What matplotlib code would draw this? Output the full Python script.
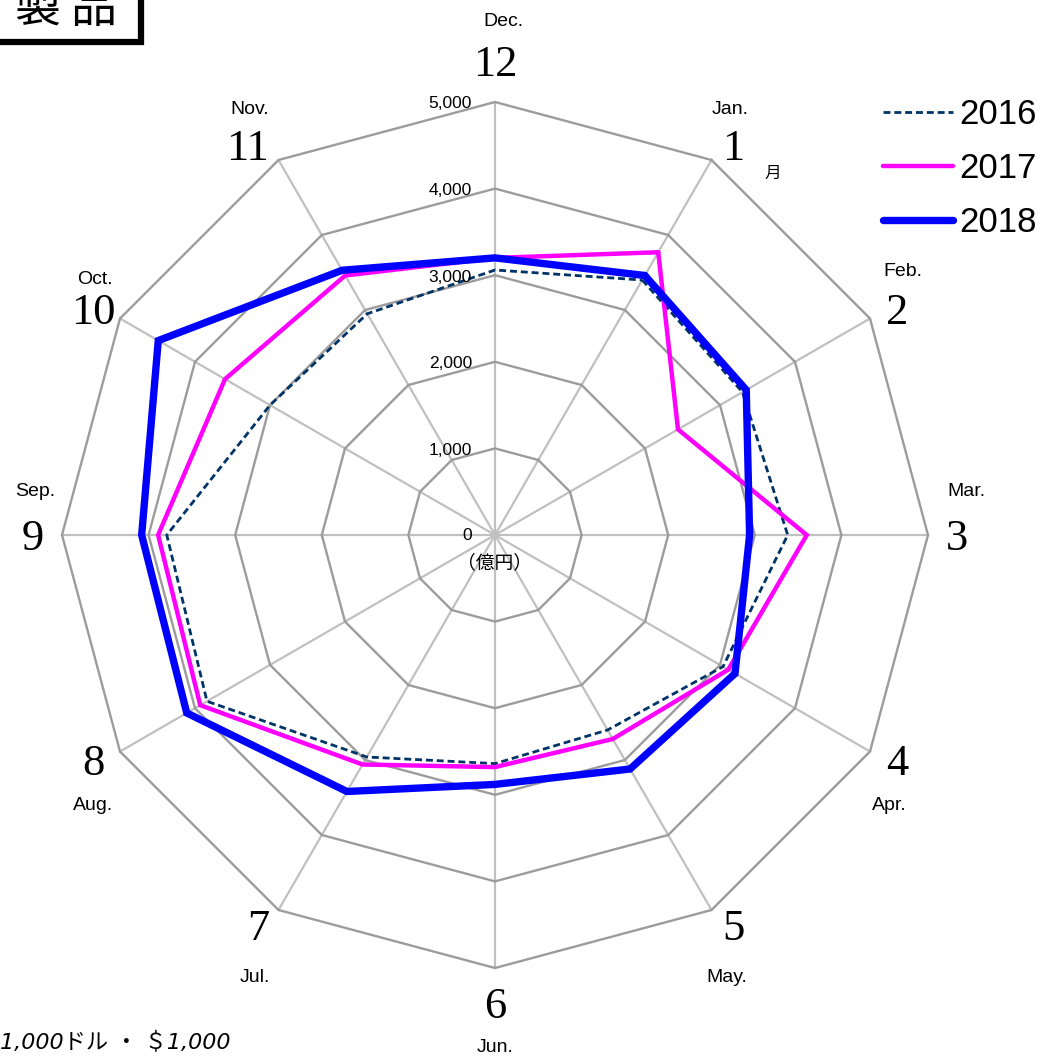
import numpy as np
import matplotlib
matplotlib.use("Agg")
import matplotlib.pyplot as plt
from matplotlib.patches import Rectangle

plt.rcParams["font.family"] = ["Liberation Sans", "Noto Sans CJK JP"]

# --- data (億円) -----------------------------------------------------------
month_nums = ["1", "2", "3", "4", "5", "6", "7", "8", "9", "10", "11", "12"]
month_abbr = ["Jan.", "Feb.", "Mar.", "Apr.", "May.", "Jun.",
              "Jul.", "Aug.", "Sep.", "Oct.", "Nov.", "Dec."]
years = ["2016", "2017", "2018"]
sales_2016 = [3400, 3300, 3380, 3040, 2600, 2640, 2960, 3840, 3790, 3000, 2950, 3060]
sales_2017 = [3770, 2440, 3600, 3110, 2720, 2680, 3060, 3930, 3890, 3600, 3460, 3200]
sales_2018 = [3460, 3350, 2940, 3200, 3120, 2880, 3420, 4110, 4080, 4490, 3530, 3200]
ring_values = [1000, 2000, 3000, 4000, 5000]
ring_labels = ["1,000", "2,000", "3,000", "4,000", "5,000"]

# --- layout -----------------------------------------------------------------
W, H = 1041, 1057
cx, cy = 495, 535            # chart centre in pixels
u = 5000 / 433.0             # value units per pixel

# month-number label centres, pixels relative to the chart centre (y up)
num_pos = [(238, 386), (402, 222), (462, -4), (402, -229), (238, -394),
           (0, -472), (-237, -394), (-402, -229), (-462, -4), (-402, 222),
           (-248, 386), (0, 470)]
# abbreviation offset from the number, pixels (y up)
abbr_off = [(-3, 39), (6, 41), (9, 47), (-8, -41), (-6, -48), (0, -40),
            (-3, -48), (0, -41), (2, 47), (2, 34), (3, 39), (8, 43)]

# Jan at 60 deg, going clockwise, Dec at the top
angles = np.deg2rad(60 - 30 * np.arange(12))


def to_xy(vals):
    vals = np.asarray(vals, dtype=float)
    x = np.append(vals * np.cos(angles), vals[0] * np.cos(angles[0]))
    y = np.append(vals * np.sin(angles), vals[0] * np.sin(angles[0]))
    return x, y


fig = plt.figure(figsize=(W / 100, H / 100), dpi=100)
ax = fig.add_axes([0, 0, 1, 1])
ax.set_xlim(-cx * u, (W - cx) * u)
ax.set_ylim(-(H - cy) * u, cy * u)
ax.axis("off")

# spokes
for a in angles:
    ax.plot([0, 5000 * np.cos(a)], [0, 5000 * np.sin(a)],
            color="#c0c0c0", lw=1.6, zorder=1)
# rings
for rv in ring_values:
    x, y = to_xy([rv] * 12)
    ax.plot(x, y, color="#9c9c9c", lw=1.7, zorder=2)

# ring labels along the top spoke
ax.text(-23 * u, 0, "0", ha="right", va="center", fontsize=12.5, zorder=5)
for rv, lab in zip(ring_values, ring_labels):
    ax.text(-23 * u, rv - 2 * u, lab, ha="right", va="center",
            fontsize=12.5, zorder=5)
ax.text(0, -28 * u, "（億円）", ha="center", va="center", fontsize=13.5,
        family=["Noto Sans CJK JP"], zorder=5)

# series
x, y = to_xy(sales_2016)
ax.plot(x, y, color="#003366", lw=2.0, linestyle=(0, (2.5, 1.4)),
        zorder=4, label=years[0])
x, y = to_xy(sales_2017)
ax.plot(x, y, color="#ff00ff", lw=3.2, solid_joinstyle="miter",
        solid_capstyle="round", zorder=5, label=years[1])
x, y = to_xy(sales_2018)
ax.plot(x, y, color="#0000ff", lw=5.3, solid_joinstyle="miter",
        solid_capstyle="round", zorder=6, label=years[2])

# month labels
for i in range(12):
    nx, ny = num_pos[i]
    ox, oy = abbr_off[i]
    ax.text(nx * u, ny * u, month_nums[i], ha="center", va="center",
            fontsize=32, family=["Liberation Serif"])
    ax.text((nx + ox) * u, (ny + oy) * u, month_abbr[i], ha="center",
            va="center", fontsize=14)
ax.text((num_pos[0][0] + 40) * u, (num_pos[0][1] - 24) * u, "月",
        ha="center", va="center", fontsize=12, family=["Noto Sans CJK JP"])

# legend
leg = ax.legend(loc="upper right", bbox_to_anchor=(1037 / W, 1 - 98 / H),
                frameon=False, fontsize=25, handlelength=2.0,
                handletextpad=0.2, labelspacing=0.6, borderpad=0,
                borderaxespad=0)

# title box
fig.patches.append(Rectangle((-20 / W, 1 - 42 / H), 161 / W, 62 / H,
                             transform=fig.transFigure, fill=False,
                             edgecolor="black", lw=4.5))
fig.text(66 / W, 1 - 9 / H, "製 品", ha="center", va="center",
         fontsize=33, family=["Noto Sans CJK JP"])

# footnote
fig.text(0 / W, 1 - 1042 / H, "1,000ドル ・ ＄1,000", ha="left", va="center",
         fontsize=16, style="italic",
         family=["DejaVu Sans", "Noto Sans CJK JP"])

fig.savefig("out.png", dpi=100)
